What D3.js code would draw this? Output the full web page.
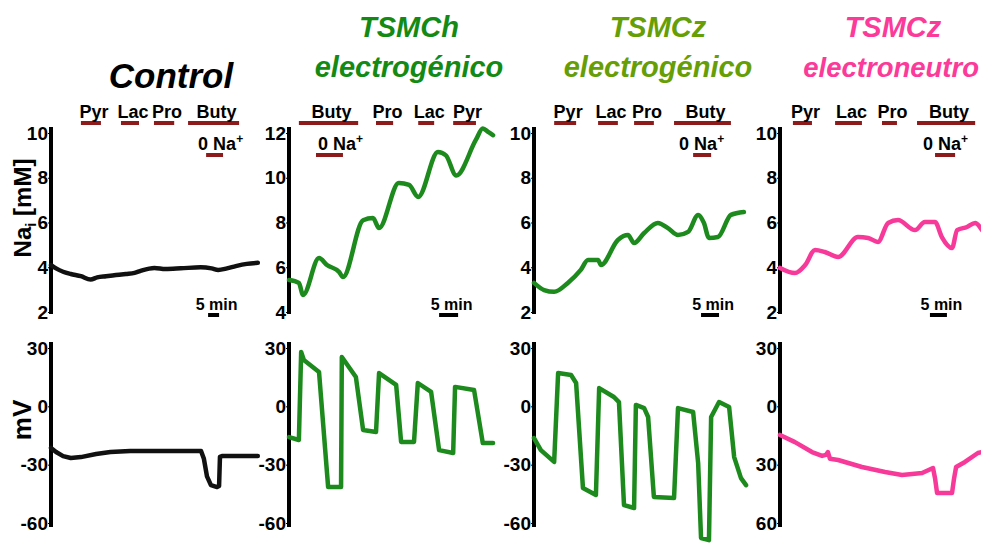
<!DOCTYPE html>
<html>
<head>
<meta charset="utf-8">
<script src="https://cdn.jsdelivr.net/npm/d3@7"></script>
<style>
  html, body { margin: 0; padding: 0; background: #fff; }
  svg { display: block; font-family: Arial, "Liberation Sans", sans-serif; font-weight: bold; }
</style>
</head>
<body>
<div id="chart"></div>
<script>
/* Na_i and membrane potential traces, four cell types. Time in minutes. */

// Control
var ctrlNaT = [0, 2.3, 5.5, 9, 13.6, 18, 21, 25, 29.5, 34, 38, 41, 47, 52, 59, 68, 73, 76, 80, 84, 89, 94];
var ctrlNaV = [4.1, 3.95, 3.8, 3.7, 3.6, 3.45, 3.55, 3.6, 3.65, 3.7, 3.75, 3.85, 3.97, 3.92, 3.95, 4.0, 3.95, 3.88, 3.95, 4.05, 4.15, 4.2];
var ctrlMvT = [0, 2.3, 5.5, 9, 13.6, 20.5, 27, 36, 50, 68.2, 69.5, 70.9, 72.7, 75.5, 76.4, 76.8, 77.7, 82, 94];
var ctrlMvV = [-21.4, -23.5, -25.6, -26.6, -26.1, -24.5, -23.5, -23, -23, -23, -27, -36, -40.5, -41.5, -41, -26, -25.6, -25.6, -25.6];
var ctrlBarNames = ["Pyr", "Lac", "Pro", "Buty"];
var ctrlBarStart = [13.6, 31.8, 46.8, 62.3];
var ctrlBarEnd = [22.7, 40, 56, 85.5];
var ctrlNa0 = [70.5, 78.2];
var ctrlScaleStart = 71.4;

// TSMCh electrogénico
var chNaT = [0, 2.6, 3.7, 7.9, 10, 13.2, 14.2, 19.5, 22.1, 23.7, 28.9, 31.6, 34, 39.2, 41.3, 44, 49.2, 51, 52.4, 53.7];
var chNaV = [5.43, 5.3, 4.76, 6.41, 6.1, 5.79, 5.56, 8.1, 8.2, 7.75, 9.77, 9.68, 9.14, 11.15, 11.0, 10.1, 11.7, 12.2, 12.05, 11.9];
var chMvT = [0, 2.6, 3.2, 3.9, 7.9, 10.3, 13.7, 13.9, 17.6, 19.5, 22.9, 23.7, 28.2, 29.5, 32.9, 33.9, 37.4, 39.5, 43.2, 43.7, 48.7, 51, 53.7];
var chMvV = [-15.8, -17.3, 28, 23.8, 17.7, -41.5, -41.5, 25.4, 15.1, -12.2, -13.2, 17.1, 11, -18.3, -18.3, 12, 7.4, -22.5, -24, 10, 8.4, -18.9, -18.9];
var chBarNames = ["Buty", "Pro", "Lac", "Pyr"];
var chBarStart = [2.6, 22.9, 34, 43.2];
var chBarEnd = [18.2, 27.4, 38.2, 49.2];
var chNa0 = [7.1, 14.2];
var chScaleStart = 39.5;

// TSMCz electrogénico
var czNaT = [0, 2.8, 5.6, 9.4, 13, 15, 17.8, 18.6, 23.3, 26.1, 27.8, 30.6, 34.4, 37.2, 40, 42.8, 45.6, 47.2, 48.6, 51.1, 54.7, 58.3];
var czNaV = [3.3, 2.98, 2.9, 3.3, 3.88, 4.32, 4.32, 4.1, 5.22, 5.44, 5.08, 5.53, 5.98, 5.75, 5.44, 5.58, 6.34, 5.98, 5.31, 5.35, 6.34, 6.47];
var czMvT = [0, 1.9, 5.6, 6.7, 10.3, 11.7, 13.6, 17.2, 18.1, 22.2, 23.6, 25, 27.8, 28.3, 30.6, 31.7, 33.3, 38.9, 40, 44.2, 45.6, 46.4, 48.6, 49.2, 51.4, 54.2, 55.6, 57.5, 58.9];
var czMvV = [-16.3, -22.5, -28.6, 17.1, 16.1, 12, -42, -45.6, 9.4, 4.8, 2.2, -50.8, -52.3, 0.7, -0.9, -5.5, -46.6, -47.2, -0.9, -2.9, -29.2, -67.7, -68.8, -5.5, 2.2, -0.3, -26.1, -36.9, -40.5];
var czBarNames = ["Pyr", "Lac", "Pro", "Buty"];
var czBarStart = [5.6, 17.8, 27.8, 38.9];
var czBarEnd = [11.7, 23.3, 33.3, 54.7];
var czNa0 = [44.2, 49.2];
var czScaleStart = 46.4;

// TSMCz electroneutro
var neNaT = [0, 4.4, 7.4, 10.3, 13.2, 17.1, 22.9, 25.9, 28.8, 31.8, 34.7, 39.7, 42.6, 45.6, 47.6, 50.6, 52.1, 55, 57.4, 59.4];
var neNaV = [3.97, 3.74, 4.1, 4.77, 4.68, 4.46, 5.35, 5.31, 5.13, 5.98, 6.11, 5.66, 6.02, 6.02, 5.35, 4.86, 5.66, 5.8, 5.98, 5.66];
var neMvT = [0, 4.4, 9.4, 12.4, 13.5, 14.1, 14.7, 17.1, 24.1, 30.9, 35.9, 41.8, 45, 45.6, 46.2, 50.6, 51.2, 51.8, 54.4, 58.2, 59.4];
var neMvV = [-14.7, -18.4, -23.5, -25.5, -25, -23.5, -27, -27.6, -31.2, -33.8, -35.3, -34.3, -31.7, -37, -44.6, -44.6, -37, -31.2, -28.6, -24, -23.5];
var neBarNames = ["Pyr", "Lac", "Pro", "Buty"];
var neBarStart = [3.8, 16.2, 30, 40.3];
var neBarEnd = [9.4, 24.1, 34.4, 57.4];
var neNa0 = [45.6, 51.5];
var neScaleStart = 44.1;

// tick labels
var naTicks = [2, 4, 6, 8, 10];
var naTicksCh = [4, 6, 8, 10, 12];
var mvTicks = [30, 0, -30, -60];
var mvLabels = ["30", "0", "-30", "-60"];
var mvLabelsNe = ["30", "0", "30", "60"];

var W = 981, H = 544;
var BAR_RED = "#8e1b1b";

var panels = [
  { axisX: 51, ppm: 2.2, tMax: 94, color: "#111", naT: ctrlNaT, naV: ctrlNaV, mvT: ctrlMvT, mvV: ctrlMvV,
    naTicks: naTicks, mvLabels: mvLabels, names: ctrlBarNames, bs: ctrlBarStart, be: ctrlBarEnd,
    na0: ctrlNa0, na0dx: -8, scale: ctrlScaleStart,
    title: ["Control"], titleColor: "#000", titleX: 171, titleY: [88], titleSize: [35], anchor: "middle" },
  { axisX: 289, ppm: 3.8, tMax: 54, color: "#1c8a1c", naT: chNaT, naV: chNaV, mvT: chMvT, mvV: chMvV,
    naTicks: naTicksCh, mvLabels: mvLabels, names: chBarNames, bs: chBarStart, be: chBarEnd,
    na0: chNa0, na0dx: 2, scale: chScaleStart,
    title: ["TSMCh", "electrogénico"], titleColor: "#138a13", titleX: 409, titleY: [37, 77], titleSize: [29, 29], anchor: "middle" },
  { axisX: 534, ppm: 3.6, tMax: 59, color: "#1c8a1c", naT: czNaT, naV: czNaV, mvT: czMvT, mvV: czMvV,
    naTicks: naTicks, mvLabels: mvLabels, names: czBarNames, bs: czBarStart, be: czBarEnd,
    na0: czNa0, na0dx: -14, scale: czScaleStart,
    title: ["TSMCz", "electrogénico"], titleColor: "#669e06", titleX: 658, titleY: [37, 77], titleSize: [29, 29], anchor: "middle" },
  { axisX: 780, ppm: 3.4, tMax: 60, color: "#f7399a", naT: neNaT, naV: neNaV, mvT: neMvT, mvV: neMvV,
    naTicks: naTicks, mvLabels: mvLabelsNe, names: neBarNames, bs: neBarStart, be: neBarEnd,
    na0: neNa0, na0dx: -12, scale: neScaleStart,
    title: ["TSMCz", "electroneutro"], titleColor: "#fc3a9a", titleX: 893, titleY: [37, 77], titleSize: [29, 27.5], anchor: "middle" }
];

var svg = d3.select("#chart").append("svg")
  .attr("width", W).attr("height", H)
  .attr("viewBox", "0 0 " + W + " " + H);
svg.append("rect").attr("width", W).attr("height", H).attr("fill", "#fff");

// Y-axis titles
var naTitle = svg.append("text")
  .attr("transform", "translate(31,208) rotate(-90)")
  .attr("text-anchor", "middle").attr("font-size", 24).attr("fill", "#000");
naTitle.append("tspan").text("Na");
naTitle.append("tspan").attr("font-size", 15).attr("dy", 5).text("i");
naTitle.append("tspan").attr("dy", -5).text(" [mM]");

svg.append("text")
  .attr("transform", "translate(31,420) rotate(-90)")
  .attr("text-anchor", "middle").attr("font-size", 26).attr("fill", "#000")
  .text("mV");

panels.forEach(function (p) {
  var x = d3.scaleLinear().domain([0, p.tMax]).range([p.axisX, p.axisX + p.tMax * p.ppm]);
  var yNa = d3.scaleLinear().domain([p.naTicks[0], p.naTicks[p.naTicks.length - 1]]).range([312, 133]);
  var yMv = d3.scaleLinear().domain([-60, 30]).range([523, 348]);

  var g = svg.append("g");

  // titles
  p.title.forEach(function (t, i) {
    var tx = g.append("text")
      .attr("x", p.titleX).attr("y", p.titleY[i])
      .attr("text-anchor", "middle")
      .attr("font-size", p.titleSize[i]).attr("font-style", "italic")
      .attr("fill", p.titleColor).text(t);
    // keep the long last title inside the frame
    var w = tx.node().getComputedTextLength();
    if (p.titleX + w / 2 > W - 2) tx.attr("x", W - 2 - w / 2);
  });

  // axes
  g.append("line").attr("x1", p.axisX).attr("x2", p.axisX).attr("y1", 127).attr("y2", 314)
    .attr("stroke", "#000").attr("stroke-width", 4);
  g.append("line").attr("x1", p.axisX).attr("x2", p.axisX).attr("y1", 342).attr("y2", 527)
    .attr("stroke", "#000").attr("stroke-width", 4);

  var axNa = g.append("g").attr("transform", "translate(" + (p.axisX - 2) + ",0)")
    .call(d3.axisLeft(yNa).tickValues(p.naTicks).tickSize(1).tickPadding(0).tickSizeOuter(0));
  var axMv = g.append("g").attr("transform", "translate(" + (p.axisX - 2) + ",0)")
    .call(d3.axisLeft(yMv).tickValues(mvTicks).tickSize(1).tickPadding(0).tickSizeOuter(0)
      .tickFormat(function (d, i) { return p.mvLabels[i]; }));
  [axNa, axMv].forEach(function (ax) {
    ax.select(".domain").remove();
    ax.selectAll("text").attr("font-size", 19).attr("font-weight", "bold")
      .attr("font-family", "Arial, 'Liberation Sans', sans-serif").attr("fill", "#000");
    ax.selectAll("line").attr("stroke", "#000");
  });

  // traces
  var naLine = d3.line().curve(d3.curveMonotoneX)
    .x(function (d) { return x(d[0]); }).y(function (d) { return yNa(d[1]); });
  var mvLine = d3.line()
    .x(function (d) { return x(d[0]); }).y(function (d) { return yMv(d[1]); });
  g.append("path").datum(d3.zip(p.naT, p.naV)).attr("d", naLine)
    .attr("fill", "none").attr("stroke", p.color).attr("stroke-width", 4.5)
    .attr("stroke-linejoin", "round").attr("stroke-linecap", "round");
  g.append("path").datum(d3.zip(p.mvT, p.mvV)).attr("d", mvLine)
    .attr("fill", "none").attr("stroke", p.color).attr("stroke-width", 4.5)
    .attr("stroke-linejoin", "round").attr("stroke-linecap", "round");

  // substrate bars
  p.names.forEach(function (n, i) {
    g.append("line").attr("x1", x(p.bs[i])).attr("x2", x(p.be[i])).attr("y1", 123).attr("y2", 123)
      .attr("stroke", BAR_RED).attr("stroke-width", 4);
    g.append("text").attr("x", (x(p.bs[i]) + x(p.be[i])) / 2 + 3).attr("y", 118)
      .attr("text-anchor", "middle").attr("font-size", 18).attr("fill", "#000").text(n);
  });

  // 0 Na+ bar
  g.append("line").attr("x1", x(p.na0[0])).attr("x2", x(p.na0[1])).attr("y1", 155).attr("y2", 155)
    .attr("stroke", BAR_RED).attr("stroke-width", 4);
  var na0 = g.append("text").attr("x", x(p.na0[0]) + p.na0dx).attr("y", 150)
    .attr("font-size", 18).attr("fill", "#000");
  na0.append("tspan").text("0 Na");
  na0.append("tspan").attr("font-size", 12).attr("dy", -7).text("+");

  // 5 min scale bar
  g.append("line").attr("x1", x(p.scale)).attr("x2", x(p.scale + 5)).attr("y1", 315).attr("y2", 315)
    .attr("stroke", "#000").attr("stroke-width", 4);
  g.append("text").attr("x", (x(p.scale) + x(p.scale + 5)) / 2 + 3).attr("y", 310)
    .attr("text-anchor", "middle").attr("font-size", 16).attr("fill", "#000").text("5 min");
});
</script>
</body>
</html>
